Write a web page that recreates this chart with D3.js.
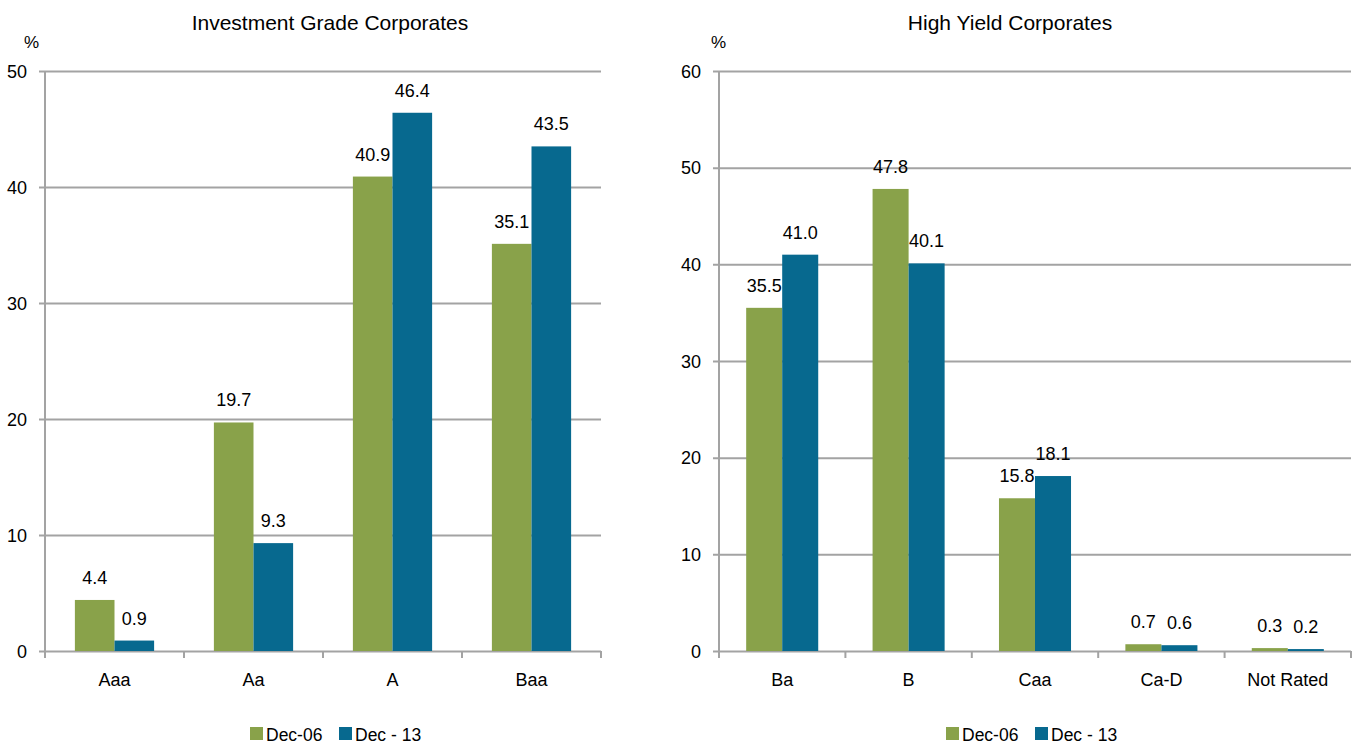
<!DOCTYPE html>
<html>
<head>
<meta charset="utf-8">
<script src="https://cdn.jsdelivr.net/npm/d3@7"></script>
<style>
  html, body { margin: 0; padding: 0; background: #fff; }
  svg { display: block; font-family: "Liberation Sans", Arial, sans-serif; }
</style>
</head>
<body>
<svg id="chart" width="1353" height="746"></svg>
<script>
// Rating distribution of corporate bonds, Dec-06 vs Dec-13 (%)
const seriesNames = ["Dec-06", "Dec - 13"];
const seriesColors = ["#89a24a", "#07698f"];

const igCategories = ["Aaa", "Aa", "A", "Baa"];
const igDec06 = [4.4, 19.7, 40.9, 35.1];
const igDec13 = [0.9, 9.3, 46.4, 43.5];
const igTicks = [0, 10, 20, 30, 40, 50];

const hyCategories = ["Ba", "B", "Caa", "Ca-D", "Not Rated"];
const hyDec06 = [35.5, 47.8, 15.8, 0.7, 0.3];
const hyDec13 = [41.0, 40.1, 18.1, 0.6, 0.2];
const hyTicks = [0, 10, 20, 30, 40, 50, 60];

const svg = d3.select("#chart");
const gridColor = "#a3a3a3";

function drawPanel(opt) {
  const g = svg.append("g");
  const x = d3.scaleBand()
    .domain(opt.categories)
    .range([opt.left, opt.right])
    .paddingInner(0.43)
    .paddingOuter(0.215);
  const sub = d3.scaleBand().domain([0, 1]).range([0, x.bandwidth()]);
  const y = d3.scaleLinear()
    .domain([0, d3.max(opt.ticks)])
    .range([opt.bottom, opt.top]);

  // value axis: gridlines + labels
  const yAxis = g.append("g")
    .attr("transform", `translate(${opt.left},0)`)
    .call(d3.axisLeft(y).tickValues(opt.ticks).tickSizeOuter(0)
      .tickSizeInner(-(opt.right - opt.left)).tickPadding(0));
  yAxis.select(".domain").remove();
  yAxis.selectAll(".tick line")
    .attr("x1", -6).attr("x2", opt.right - opt.left)
    .attr("stroke", gridColor).attr("stroke-width", 2);
  yAxis.selectAll(".tick text")
    .attr("x", -18).attr("dy", "0.35em")
    .attr("font-size", 18).attr("fill", "#000")
    .attr("font-family", "Liberation Sans, Arial, sans-serif");

  // vertical axis line
  g.append("line")
    .attr("x1", opt.left).attr("x2", opt.left)
    .attr("y1", y.range()[1]).attr("y2", y(0))
    .attr("stroke", gridColor).attr("stroke-width", 2);

  // category boundary ticks
  const step = x.step();
  const bounds = d3.range(opt.categories.length + 1).map(i => opt.left + i * step);
  g.selectAll(".ctick").data(bounds).join("line")
    .attr("x1", d => d).attr("x2", d => d)
    .attr("y1", y(0)).attr("y2", y(0) + 7)
    .attr("stroke", gridColor).attr("stroke-width", 2);

  // category labels
  const xAxis = g.append("g")
    .attr("transform", `translate(0,${y(0)})`)
    .call(d3.axisBottom(x).tickSize(0).tickPadding(0));
  xAxis.select(".domain").remove();
  xAxis.selectAll(".tick text")
    .attr("y", 35).attr("dy", 0)
    .attr("font-size", 18).attr("fill", "#000")
    .attr("font-family", "Liberation Sans, Arial, sans-serif");

  // bars + value labels
  const series = [opt.s1, opt.s2];
  series.forEach((vals, si) => {
    const rows = opt.categories.map((c, i) => ({ c, v: vals[i] }));
    g.selectAll(null).data(rows).join("rect")
      .attr("x", d => x(d.c) + sub(si))
      .attr("y", d => y(d.v))
      .attr("width", sub.bandwidth())
      .attr("height", d => y(0) - y(d.v))
      .attr("fill", seriesColors[si]);
    g.selectAll(null).data(rows).join("text")
      .attr("x", d => x(d.c) + sub(si) + sub.bandwidth() / 2)
      .attr("y", d => y(d.v) - 16)
      .attr("text-anchor", "middle")
      .attr("font-size", 18)
      .text(d => d.v.toFixed(1));
  });

  // title and unit
  g.append("text")
    .attr("x", opt.titleX).attr("y", 29.5)
    .attr("text-anchor", "middle")
    .attr("font-size", 21)
    .text(opt.title);
  g.append("text")
    .attr("x", opt.unitX).attr("y", 48)
    .attr("font-size", 17)
    .text("%");

  // legend
  opt.legendX.forEach((lx, i) => {
    g.append("rect")
      .attr("x", lx).attr("y", 727)
      .attr("width", 13).attr("height", 13)
      .attr("fill", seriesColors[i]);
    g.append("text")
      .attr("x", lx + 16).attr("y", 741)
      .attr("font-size", 17.5)
      .text(seriesNames[i]);
  });
}

drawPanel({
  title: "Investment Grade Corporates", titleX: 330, unitX: 24,
  categories: igCategories, s1: igDec06, s2: igDec13, ticks: igTicks,
  left: 45, right: 601, top: 71, bottom: 651,
  legendX: [250, 339]
});

drawPanel({
  title: "High Yield Corporates", titleX: 1010, unitX: 711,
  categories: hyCategories, s1: hyDec06, s2: hyDec13, ticks: hyTicks,
  left: 719, right: 1351, top: 71, bottom: 651,
  legendX: [946, 1035]
});
</script>
</body>
</html>
